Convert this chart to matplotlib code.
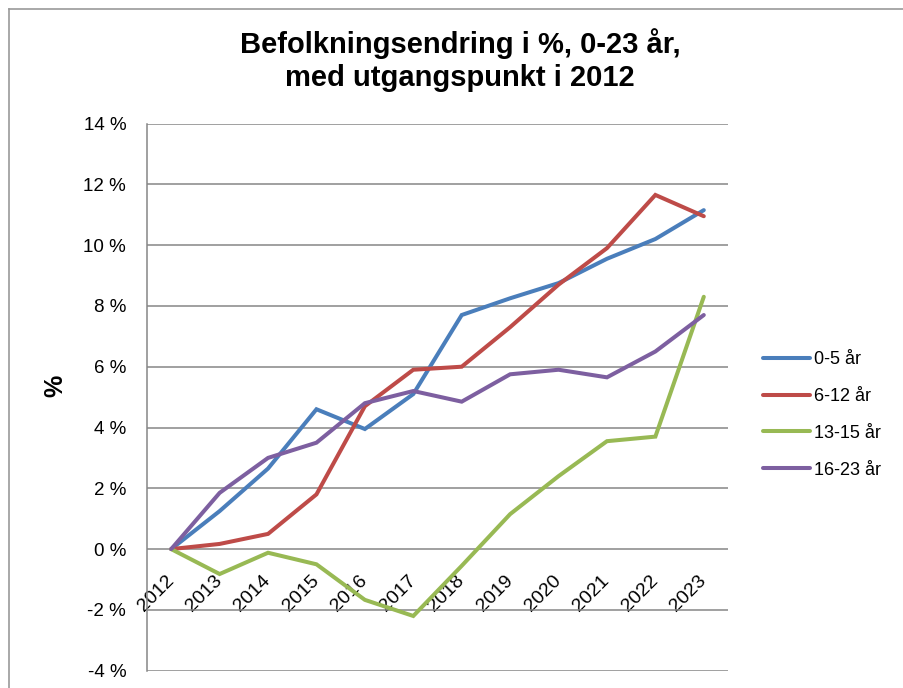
import matplotlib
matplotlib.use("Agg")
import matplotlib.pyplot as plt
from matplotlib.lines import Line2D

plt.rcParams['font.family'] = ['Liberation Sans', 'DejaVu Sans']

years = ["2012", "2013", "2014", "2015", "2016", "2017",
         "2018", "2019", "2020", "2021", "2022", "2023"]
age_0_5 = [0, 1.25, 2.65, 4.6, 3.95, 5.1, 7.7, 8.25, 8.75, 9.55, 10.2, 11.15]
age_6_12 = [0, 0.17, 0.5, 1.8, 4.7, 5.9, 6.0, 7.3, 8.7, 9.9, 11.65, 10.95]
age_13_15 = [0, -0.82, -0.12, -0.5, -1.67, -2.2, -0.55, 1.15, 2.4, 3.55, 3.7, 8.3]
age_16_23 = [0, 1.85, 3.0, 3.5, 4.8, 5.2, 4.85, 5.75, 5.9, 5.65, 6.5, 7.7]
labels = ["0-5 år", "6-12 år", "13-15 år", "16-23 år"]
colors = ["#4A7EBB", "#BE4B48", "#98B954", "#7D5FA0"]
yticks = [-4, -2, 0, 2, 4, 6, 8, 10, 12, 14]

W, H = 904, 688
fig = plt.figure(figsize=(W / 100, H / 100), dpi=100)
ax = fig.add_axes([147 / W, 1 - 670.7 / H, (728 - 147) / W, (670.7 - 123.5) / H])

# category axis crosses at 0 (set before the labels, it resets the ticks)
ax.spines['bottom'].set_position(('data', 0))
ax.spines['bottom'].set_visible(False)
for s in ['top', 'right']:
    ax.spines[s].set_visible(False)
ax.spines['left'].set_color('#868686')
ax.spines['left'].set_linewidth(1.1)

x = list(range(len(years)))
for vals, lab, col in zip([age_0_5, age_6_12, age_13_15, age_16_23], labels, colors):
    ax.plot(x, vals, color=col, lw=2.9, label=lab, solid_joinstyle='miter',
            solid_capstyle='round')

ax.set_xlim(-0.5, len(years) - 0.5)
ax.set_ylim(-4, 14)
ax.set_yticks(yticks)
ax.set_yticklabels([f"{t} %" for t in yticks], fontsize=13.5)
ax.set_xticks(x)
ax.set_xticklabels(years, rotation=45, ha='right', va='center',
                   rotation_mode='anchor', fontsize=14)
ax.tick_params(axis='y', length=0, pad=15)
ax.tick_params(axis='x', length=0, pad=21)
ax.grid(axis='y', color='#868686', lw=1.1)
ax.set_axisbelow(True)

fig.text(460 / W, 1 - 60 / H, "Befolkningsendring i %, 0-23 år,\nmed utgangspunkt i 2012",
         ha='center', va='center', fontsize=21, fontweight='bold', linespacing=1.25)
fig.text(55 / W, 1 - 386 / H, "%", rotation=90, ha='center', va='center',
         fontsize=18, fontweight='bold')

fig.legend(loc='upper left', bbox_to_anchor=(763 / W, 1 - 351 / H), frameon=False,
           fontsize=13, handlelength=2.6, handletextpad=0.25, labelspacing=1.1,
           borderpad=0, borderaxespad=0)

# chart frame
fig.add_artist(Line2D([9 / W, 9 / W], [0, 1 - 9 / H], transform=fig.transFigure,
                      color='#999999', lw=1.2))
fig.add_artist(Line2D([9 / W, 1], [1 - 9 / H, 1 - 9 / H], transform=fig.transFigure,
                      color='#999999', lw=1.2))

fig.savefig("out.png", dpi=100)
